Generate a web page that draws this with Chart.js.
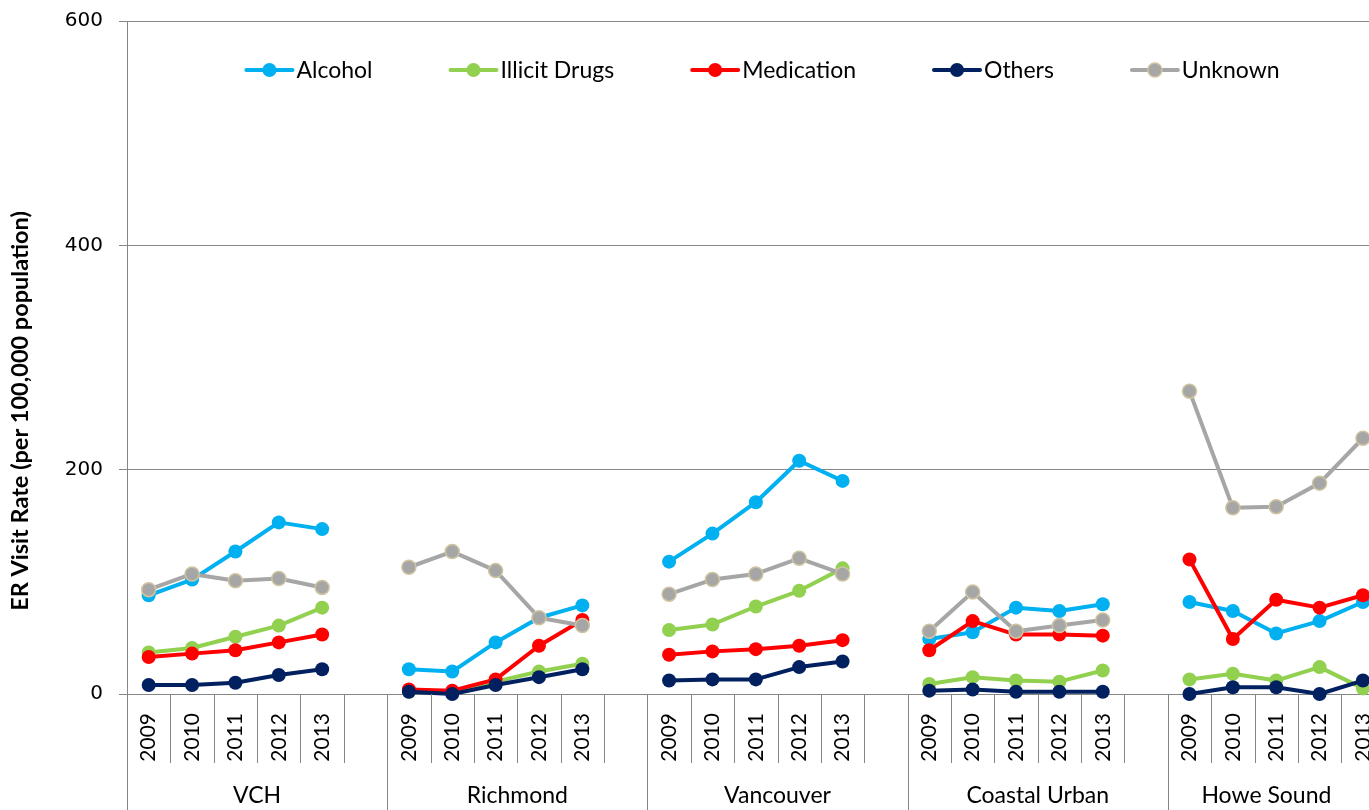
<!DOCTYPE html>
<html><head><meta charset="utf-8">
<script src="https://cdn.jsdelivr.net/npm/chart.js@4.4.1/dist/chart.umd.min.js"></script>
<style>
html,body{margin:0;padding:0;background:#fff;overflow:hidden;width:1369px;height:810px}
#wrap{position:absolute;left:0;top:0;width:1440px;height:810px}
</style></head>
<body><div id="wrap"><canvas id="c" width="1440" height="810"></canvas></div>
<script>
// ---- data ----
const regions = ['VCH', 'Richmond', 'Vancouver', 'Coastal Urban', 'Howe Sound'];
const years = ['2009', '2010', '2011', '2012', '2013'];
const yTicks = [0, 200, 400, 600];
const yTitle = 'ER Visit Rate (per 100,000 population)';

const alcohol    = [88,102,127,153,147,  22,20,46,68,79,    118,143,171,208,190, 49,55,77,74,80,  82,74,54,65,82];
const illicit    = [37,41,51,61,77,      2,2,11,20,27,      57,62,78,92,112,     9,15,12,11,21,   13,18,12,24,5];
const medication = [33,36,39,46,53,      4,3,13,43,66,      35,38,40,43,48,      39,65,53,53,52,  120,49,84,77,88];
const others     = [8,8,10,17,22,        2,0,8,15,22,       12,13,13,24,29,      3,4,2,2,2,       0,6,6,0,12];
const unknown    = [93,107,101,103,95,   113,127,110,68,61, 89,102,107,121,107,  56,91,56,61,66,  270,166,167,188,228];

// ---- build padded category layout (5 years + one empty slot per region) ----
const labels = [];
regions.forEach(() => { years.forEach(y => labels.push(y)); labels.push(''); });
function pad(arr) {
  const out = [];
  regions.forEach((r, g) => { for (let k = 0; k < years.length; k++) out.push(arr[g * years.length + k]); out.push(null); });
  return out;
}

function ds(label, arr, color, order, ptBorder) {
  return {
    label, data: pad(arr), order,
    borderColor: color, backgroundColor: color,
    borderWidth: 4, borderJoinStyle: 'round', borderCapStyle: 'round',
    pointRadius: 7, pointHoverRadius: 7,
    pointBackgroundColor: color,
    pointBorderColor: ptBorder || color,
    pointBorderWidth: ptBorder ? 1.5 : 0,
    tension: 0, spanGaps: false, clip: false
  };
}

const GRID = '#868686';
const VIEW_W = 1369;

const decor = {
  id: 'decor',
  afterDraw(chart) {
    const { ctx, chartArea: a, scales: { x } } = chart;
    const half = (x.getPixelForValue(1) - x.getPixelForValue(0)) / 2;
    const n = labels.length;
    const H = chart.height;
    ctx.save();
    ctx.strokeStyle = GRID; ctx.lineWidth = 1;
    for (let i = 0; i <= n; i++) {
      const px = Math.round(x.getPixelForValue(0) - half + i * 2 * half) + 0.5;
      const y2 = (i % 6 === 0) ? H : 763;
      ctx.beginPath(); ctx.moveTo(px, a.bottom); ctx.lineTo(px, y2); ctx.stroke();
    }
    // group labels (centred in the visible part of each group)
    ctx.fillStyle = '#000';
    ctx.font = '23px Lato';
    ctx.textAlign = 'center'; ctx.textBaseline = 'middle';
    regions.forEach((r, g) => {
      const l = x.getPixelForValue(g * 6) - half;
      const rr = Math.min(x.getPixelForValue(g * 6 + 5) + half, VIEW_W - 4);
      ctx.fillText(r, (l + rr) / 2, 796);
    });
    // y title
    ctx.save();
    ctx.translate(20, 411);
    ctx.rotate(-Math.PI / 2);
    ctx.font = 'bold 23.5px Lato';
    ctx.fillText(yTitle, 0, 0);
    ctx.restore();
    // legend
    ctx.font = '23px Lato';
    ctx.textAlign = 'left';
    const items = chart.data.datasets.map(d => ({ d, tw: ctx.measureText(d.label).width }));
    const lineLen = 50, gapText = 2, gapItem = 76;
    let total = 0;
    items.forEach((it, i) => { total += lineLen + gapText + it.tw + (i ? gapItem : 0); });
    let cx = 762 - total / 2;
    const cy = 70;
    items.forEach(it => {
      const d = it.d;
      ctx.strokeStyle = d.borderColor; ctx.lineWidth = 4; ctx.lineCap = 'round';
      ctx.beginPath(); ctx.moveTo(cx + 2, cy); ctx.lineTo(cx + lineLen - 2, cy); ctx.stroke();
      ctx.beginPath(); ctx.arc(cx + lineLen / 2, cy, 7, 0, Math.PI * 2);
      ctx.fillStyle = d.pointBackgroundColor; ctx.fill();
      if (d.pointBorderWidth) { ctx.lineWidth = d.pointBorderWidth; ctx.strokeStyle = d.pointBorderColor; ctx.stroke(); }
      ctx.fillStyle = '#000';
      ctx.fillText(d.label, cx + lineLen + gapText, cy + 1);
      cx += lineLen + gapText + it.tw + gapItem;
    });
    ctx.restore();
  }
};

new Chart(document.getElementById('c'), {
  type: 'line',
  data: {
    labels,
    datasets: [
      ds('Alcohol', alcohol, '#00B0F0', 5),
      ds('Illicit Drugs', illicit, '#92D050', 4),
      ds('Medication', medication, '#FF0000', 3),
      ds('Others', others, '#002060', 2),
      ds('Unknown', unknown, '#A6A6A6', 1, '#CFC4A0')
    ]
  },
  options: {
    responsive: false, animation: false, devicePixelRatio: 1,
    layout: { padding: { left: 0, right: 12, top: 21, bottom: 0 } },
    plugins: { legend: { display: false }, tooltip: { enabled: false } },
    scales: {
      x: {
        type: 'category', offset: true,
        grid: { display: false, drawTicks: false },
        border: { display: false },
        ticks: { autoSkip: false, minRotation: 90, maxRotation: 90, padding: 19,
                 color: '#000', font: { family: 'Lato', size: 21 } },
        afterFit(s) { s.height = 116; s.paddingLeft = 0; s.paddingRight = 0; }
      },
      y: {
        min: 0, max: 600,
        afterBuildTicks(s) { s.ticks = yTicks.map(v => ({ value: v })); },
        grid: { color: GRID, lineWidth: 1, tickLength: 8, drawTicks: true },
        border: { display: true, color: GRID, width: 1 },
        ticks: { padding: 16, color: '#000', font: { family: 'DejaVu Sans', size: 20 } },
        afterFit(s) { s.width = 127; s.paddingTop = 0; s.paddingBottom = 0; }
      }
    }
  },
  plugins: [decor]
});
</script></body></html>
